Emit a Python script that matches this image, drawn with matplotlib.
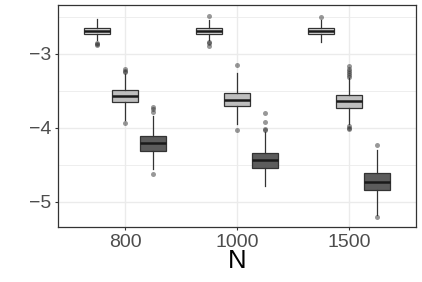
import matplotlib
matplotlib.use("Agg")
import matplotlib.pyplot as plt
from matplotlib.ticker import MultipleLocator

# ---- data ----
groups = ["800", "1000", "1500"]
series = ["A", "B", "C"]
fills = ["#DCDCDC", "#BEBEBE", "#5C5C5C"]

# per group, per series: whisker low, Q1, median, Q3, whisker high
whislo = [[-2.81, -3.89, -4.56], [-2.81, -3.95, -4.79], [-2.84, -3.95, -5.18]]
q1     = [[-2.735, -3.65, -4.31], [-2.727, -3.70, -4.55], [-2.735, -3.73, -4.84]]
med    = [[-2.69, -3.575, -4.20], [-2.686, -3.63, -4.44], [-2.686, -3.64, -4.73]]
q3     = [[-2.646, -3.485, -4.11], [-2.646, -3.53, -4.34], [-2.646, -3.56, -4.61]]
whishi = [[-2.533, -3.27, -3.84], [-2.54, -3.26, -4.05], [-2.54, -3.33, -4.30]]
fliers = [
    [[-2.86, -2.87, -2.88], [-3.21, -3.23, -3.24, -3.93], [-3.72, -3.75, -3.78, -4.63]],
    [[-2.485, -2.84, -2.86, -2.89], [-3.148, -4.03], [-3.80, -3.92, -4.02, -4.03]],
    [[-2.50], [-3.17, -3.20, -3.23, -3.26, -3.29, -3.31, -3.98, -4.00, -4.02], [-4.23, -5.21]],
]

fig = plt.figure(figsize=(4.22, 2.82), dpi=100)
ax = fig.add_axes([58 / 422, 1 - 227.3 / 282, (416 - 58) / 422, (227.3 - 5) / 282])

offsets = [-0.25, 0.0, 0.25]
for gi in range(len(groups)):
    for si in range(len(series)):
        st = [dict(whislo=whislo[gi][si], q1=q1[gi][si], med=med[gi][si],
                   q3=q3[gi][si], whishi=whishi[gi][si], fliers=fliers[gi][si])]
        ax.bxp(st, positions=[gi + 1 + offsets[si]], widths=0.23,
               patch_artist=True, showcaps=False,
               boxprops=dict(facecolor=fills[si], edgecolor="#333333", linewidth=0.9),
               medianprops=dict(color="#1A1A1A", linewidth=1.8),
               whiskerprops=dict(color="#333333", linewidth=0.9),
               flierprops=dict(marker="o", markersize=3.6, markerfacecolor="#333333",
                               markeredgecolor="none", alpha=0.5),
               manage_ticks=False, zorder=3)

ax.set_xlim(0.4, 3.6)
ax.set_ylim(-5.345, -2.34)
ax.set_xticks([1, 2, 3])
ax.set_xticklabels(groups)
ax.set_yticks([-5, -4, -3])
ax.set_yticklabels(["\u22125", "\u22124", "\u22123"])
ax.yaxis.set_minor_locator(MultipleLocator(0.5))
ax.xaxis.set_minor_locator(matplotlib.ticker.NullLocator())

ax.grid(True, which="major", color="#EBEBEB", linewidth=1.0, zorder=0)
ax.grid(True, which="minor", axis="y", color="#EBEBEB", linewidth=0.6, zorder=0)
ax.set_axisbelow(True)
for sp in ax.spines.values():
    sp.set_color("#333333")
    sp.set_linewidth(0.9)

ax.tick_params(axis="both", which="major", length=2.5, width=0.8, color="#333333",
               labelsize=14, labelcolor="#4D4D4D", pad=2)
ax.tick_params(axis="y", which="minor", length=0)
for lab in ax.get_xticklabels() + ax.get_yticklabels():
    lab.set_family(["Liberation Sans", "DejaVu Sans"])
ax.set_xlabel("N", fontsize=18.5, family=["Liberation Sans", "DejaVu Sans"], labelpad=-1)

fig.savefig("out.png", dpi=100)
